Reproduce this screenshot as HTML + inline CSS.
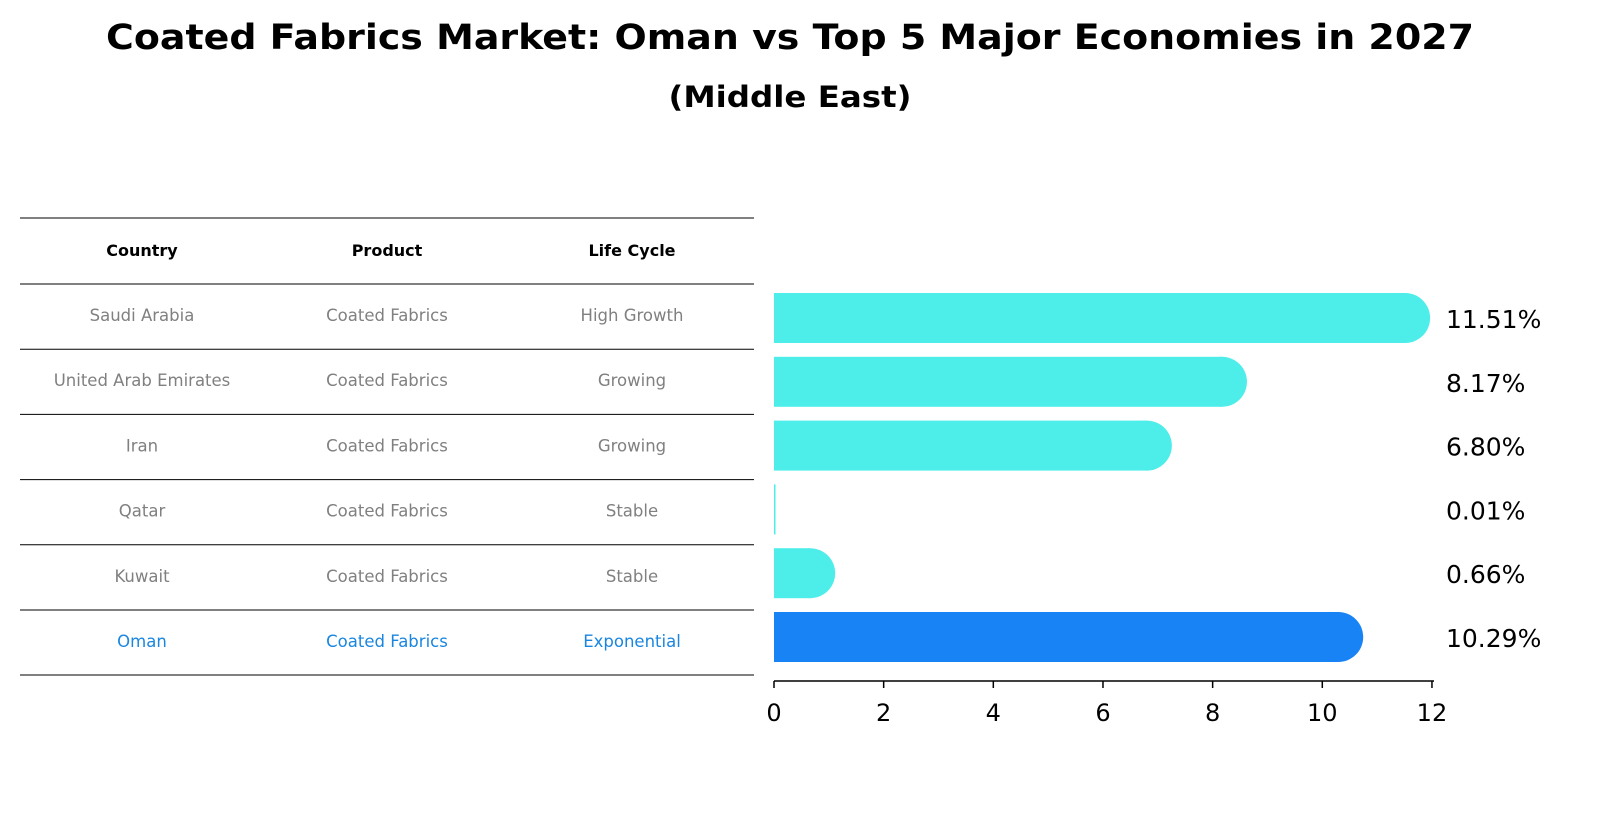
<!DOCTYPE html>
<html><head><meta charset="utf-8"><style>
body{margin:0;background:#fff;font-family:"Liberation Sans","DejaVu Sans",sans-serif}
#c{position:relative;width:1604px;height:823px;overflow:hidden}
</style></head><body>
<div id="c">
<svg id="s" width="1604" height="823" xmlns="http://www.w3.org/2000/svg">
<text x="790" y="49" text-anchor="middle" font-size="35" font-weight="bold" font-family="DejaVu Sans, sans-serif" textLength="1368" lengthAdjust="spacingAndGlyphs">Coated Fabrics Market: Oman vs Top 5 Major Economies in 2027</text>
<text x="790" y="107" text-anchor="middle" font-size="29" font-weight="bold" font-family="DejaVu Sans, sans-serif" textLength="243" lengthAdjust="spacingAndGlyphs">(Middle East)</text>
<g id="tbl"></g>
<g id="bars"></g>
<g id="axis"></g>
</svg>
</div>
<script>
const countries=["Saudi Arabia","United Arab Emirates","Iran","Qatar","Kuwait","Oman"];
const products=["Coated Fabrics","Coated Fabrics","Coated Fabrics","Coated Fabrics","Coated Fabrics","Coated Fabrics"];
const lifecycles=["High Growth","Growing","Growing","Stable","Stable","Exponential"];
const values=[11.51,8.17,6.80,0.01,0.66,10.29];
const ticks=[0,2,4,6,8,10,12];
const NS="http://www.w3.org/2000/svg";
const x0=774,pxPer=54.83;
const xs=v=>x0+v*pxPer;
const rowY=i=>318+i*63.8;
function mk(t,a,p){const e=document.createElementNS(NS,t);for(const k in a)e.setAttribute(k,a[k]);p.appendChild(e);return e;}
const tbl=document.getElementById('tbl');
for(let i=0;i<=countries.length;i++){
  const y=i==0?218:284+(i-1)*65.2;
  const l=mk('line',{x1:20,x2:754,y1:y,y2:y,stroke:'#000','stroke-width':1},tbl);
  
  
}
mk('line',{x1:20,x2:754,y1:675,y2:675,stroke:'#000','stroke-width':1},tbl);
const cx=[142,387,632];
["Country","Product","Life Cycle"].forEach((h,j)=>{
  const t=mk('text',{x:cx[j],y:256,'text-anchor':'middle','font-size':16,'font-weight':'bold','font-family':'DejaVu Sans, sans-serif'},tbl);
  t.textContent=h;
  
  
});
countries.forEach((c,i)=>{
  const y=321+i*65.2;
  const col=i==countries.length-1?'#1a86e0':'#808080';
  [c,products[i],lifecycles[i]].forEach((v,j)=>{
    const t=mk('text',{x:cx[j],y:y,'text-anchor':'middle','font-size':16.5,fill:col,'font-family':'DejaVu Sans, sans-serif'},tbl);
    t.textContent=v;
    
    
  });
});
const bars=document.getElementById('bars');
values.forEach((v,i)=>{
  const cy=rowY(i),h=50,r=25;
  const col=i==values.length-1?'#1783f5':'#4deeea';
  const w=xs(v)-x0;
  const g=mk('g',{},bars);
  
  
  if(w>=1){
    mk('rect',{x:x0,y:cy-h/2,width:w,height:h,fill:col},g);
    mk('circle',{cx:xs(v),cy:cy,r:r,fill:col},g);
  }else{
    mk('rect',{x:x0,y:cy-h/2,width:1.5,height:h,fill:col},g);
  }
  const t=mk('text',{x:1446,y:cy+10,'font-size':25,'font-family':'DejaVu Sans, sans-serif'},bars);
  t.textContent=v.toFixed(2)+'%';
  
  
});
const ax=document.getElementById('axis');
mk('line',{x1:x0,x2:1434,y1:681,y2:681,stroke:'#000','stroke-width':1.5},ax);
ticks.forEach(v=>{
  mk('line',{x1:xs(v),x2:xs(v),y1:681,y2:688,stroke:'#000','stroke-width':1.5},ax);
  const t=mk('text',{x:xs(v),y:721,'text-anchor':'middle','font-size':24,'font-family':'DejaVu Sans, sans-serif'},ax);
  t.textContent=v;
  
  
});
</script>
</body></html>
